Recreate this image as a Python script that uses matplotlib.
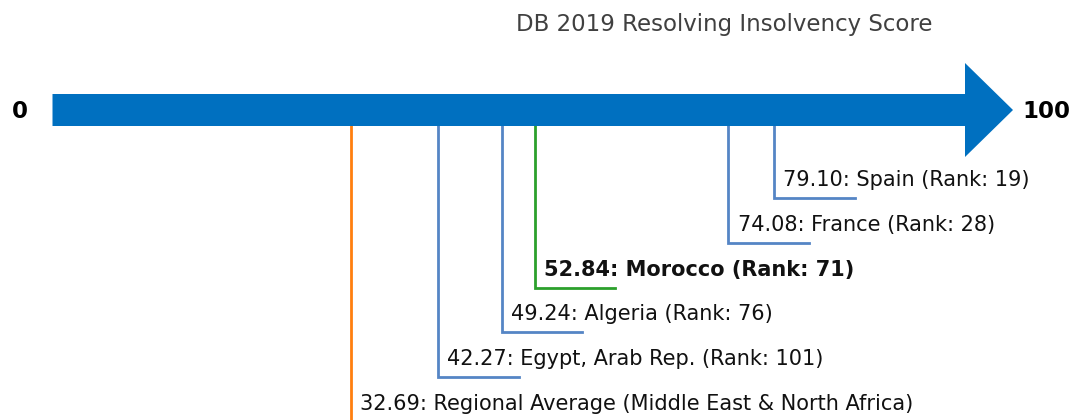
import numpy as np
import matplotlib.pyplot as plt
from matplotlib.patches import Polygon

# data
economies = ["Spain", "France", "Morocco", "Algeria", "Egypt, Arab Rep.",
             "Regional Average (Middle East & North Africa)"]
scores = [79.10, 74.08, 52.84, 49.24, 42.27, 32.69]
ranks = [19, 28, 71, 76, 101, None]
kinds = ["peer", "peer", "focus", "peer", "peer", "region"]

colors = {"peer": "#5585c5", "focus": "#2ca02c", "region": "#ff7f0e"}

fig = plt.figure(figsize=(10.71, 4.2), dpi=100)
ax = fig.add_axes([0, 0, 1, 1])

# 0 -> px 52.5, 100 -> px 965
scale = 9.125
x0 = 52.5
ax.set_xlim(-x0 / scale, (1071 - x0) / scale)
ax.set_ylim(420, 0)
ax.axis("off")

# big arrow
y_mid = 110
shaft = 16
head_w = 47
head_len = 48 / scale
arrow = Polygon([(0, y_mid - shaft), (100, y_mid - shaft), (100, y_mid - head_w),
                 (100 + head_len, y_mid), (100, y_mid + head_w),
                 (100, y_mid + shaft), (0, y_mid + shaft)],
                closed=True, facecolor="#0070c0", edgecolor="none", zorder=3)
ax.add_patch(arrow)

ax.text(-2.7, y_mid + 2, "0", ha="right", va="center", fontsize=16.5, fontweight="bold")
ax.text(100 + head_len + 1, y_mid + 2, "100", ha="left", va="center",
        fontsize=16.5, fontweight="bold")

fig.text(724 / 1071, 1 - 25 / 420, "DB 2019 Resolving Insolvency Score",
         ha="center", va="center", fontsize=16.5, color="#404040")

# callouts
top = y_mid + shaft
for i, (name, s, r, k) in enumerate(zip(economies, scores, ranks, kinds)):
    ylev = 198 + i * 44.8
    c = colors[k]
    ax.plot([s, s, s + 8.8], [top, ylev, ylev], color=c, lw=2, zorder=2,
            solid_joinstyle="miter", clip_on=False)
    if r is None:
        label = f"{s:.2f}: {name}"
    else:
        label = f"{s:.2f}: {name} (Rank: {r})"
    ax.text(s + 1.0, ylev - 18, label, ha="left", va="center", fontsize=15,
            fontweight="bold" if k == "focus" else "normal", color="#111111")

fig.savefig("out.png", dpi=100)
